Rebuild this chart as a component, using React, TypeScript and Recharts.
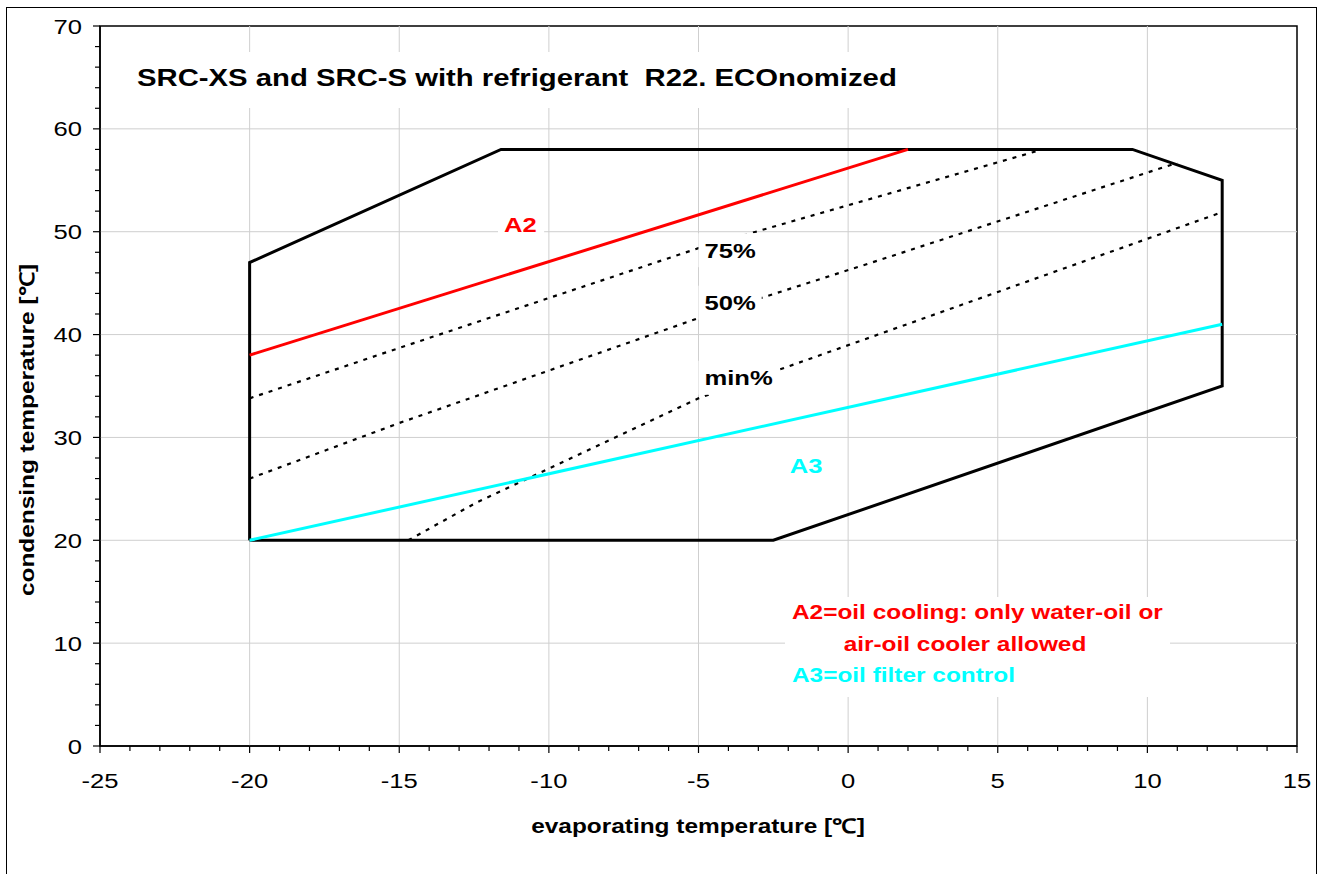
import React from 'react';
import {
  ComposedChart, Line, XAxis, YAxis,
  ReferenceLine, ReferenceDot, ReferenceArea
} from 'recharts';

const FONT = '"Liberation Sans", Arial, sans-serif';
// the original lettering is drawn wider than Arial
const SX = 1.22;

// application envelope (evaporating / condensing temperature)
const envelopeX = [-20, -20, -11.6, 9.5, 12.5, 12.5, -2.5, -20];
const envelopeY = [20, 47, 58, 58, 55, 35, 20, 20];

// A2 / A3 limit lines
const a2X = [-20, 2];
const a2Y = [38, 58];
const a3X = [-20, 12.5];
const a3Y = [20, 41];

// capacity step lines
const cap75X = [-20, -15, -5, -3.2, 6.5];
const cap75Y = [33.8, 38.7, 48.4, 49.9, 58];
const cap50X = [-20, -15, -5, 1, 11];
const cap50Y = [26, 31.4, 41.6, 47.2, 56.7];
const capMinX = [-14.7, -12.4, -5, 1, 12.4];
const capMinY = [20, 23.7, 33.8, 40, 51.8];

// axes
const xMin = -25;
const xMax = 15;
const yMin = 0;
const yMax = 70;
const gridX = [-20, -15, -10, -5, 0, 5, 10];
const gridY = [10, 20, 30, 40, 50, 60];

// in-plot labels
const labelText = ['75%', '50%', 'min%', 'A2', 'A3'];
const labelX = [-4.8, -4.8, -4.8, -11.5, -1.95];
const labelY = [48.2, 43.1, 35.8, 50.75, 27.3];
const labelColor = ['#000000', '#000000', '#000000', '#ff0000', '#00ffff'];

const range = (a: number, b: number, step: number) => {
  const out: number[] = [];
  for (let v = a; v <= b; v += step) out.push(v);
  return out;
};
const xTicks = range(xMin, xMax, 1);
const yTicks = range(yMin, yMax, 2);

const toPoints = (xs: number[], ys: number[]) => xs.map((x, i) => ({ x, y: ys[i] }));

const XTick = ({ x, y, payload }: any) => {
  const v = payload.value;
  const major = v % 5 === 0;
  return (
    <g>
      <line x1={x} x2={x} y1={y} y2={y + (major ? 7 : 5)} stroke="#000" strokeWidth={1.2} />
      {major && (
        <text transform={`translate(${x} ${y + 42}) scale(${SX} 1)`} textAnchor="middle" fontSize={21} fontFamily={FONT} fill="#000">
          {v}
        </text>
      )}
    </g>
  );
};

const YTick = ({ x, y, payload }: any) => {
  const v = payload.value;
  const major = v % 10 === 0;
  return (
    <g>
      <line x1={x - (major ? 7 : 5)} x2={x} y1={y} y2={y} stroke="#000" strokeWidth={1.2} />
      {major && (
        <text transform={`translate(${x - 18} ${y}) scale(${SX} 1)`} dy="0.36em" textAnchor="end" fontSize={21} fontFamily={FONT} fill="#000">
          {v}
        </text>
      )}
    </g>
  );
};

const makeLabel = (text: string, color: string) => (p: any) => {
  const w = text.length * 14 * SX + 12;
  return (
    <g>
      <rect x={p.cx - 6} y={p.cy - 17} width={w} height={34} fill="#fff" />
      <text transform={`translate(${p.cx} ${p.cy}) scale(${SX} 1)`} dy="0.36em" fontSize={21} fontWeight="bold" fontFamily={FONT} fill={color}>
        {text}
      </text>
    </g>
  );
};

const stretchLeft: React.CSSProperties = { transform: `scaleX(${SX})`, transformOrigin: 'left center', whiteSpace: 'pre' };

export default function App() {
  return (
    <div style={{ position: 'absolute', left: 0, top: 0, width: 1321, height: 874, overflow: 'hidden', background: '#fff', fontFamily: FONT }}>
      <div style={{ position: 'absolute', left: 6, top: 7, width: 1309, height: 900, border: '1.5px solid #000' }} />
      <div style={{ position: 'absolute', left: 0, top: 0 }}>
        <ComposedChart width={1321} height={874} margin={{ top: 26, right: 24, left: 0, bottom: 0 }}>
          <XAxis
            type="number"
            dataKey="x"
            domain={[xMin, xMax]}
            ticks={xTicks}
            interval={0}
            height={128}
            tickLine={false}
            tickSize={0}
            tickMargin={0}
            tick={<XTick />}
            axisLine={{ stroke: '#000', strokeWidth: 1.5 }}
            allowDataOverflow
          />
          <YAxis
            type="number"
            dataKey="y"
            domain={[yMin, yMax]}
            ticks={yTicks}
            interval={0}
            width={100}
            tickLine={false}
            tickSize={0}
            tickMargin={0}
            tick={<YTick />}
            axisLine={{ stroke: '#000', strokeWidth: 1.5 }}
            allowDataOverflow
          />
          {gridX.map((v) => (
            <ReferenceLine key={`gx${v}`} x={v} stroke="#cfcfcf" strokeWidth={1} />
          ))}
          {gridY.map((v) => (
            <ReferenceLine key={`gy${v}`} y={v} stroke="#cfcfcf" strokeWidth={1} />
          ))}
          <ReferenceArea x1={xMin} x2={xMax} y1={yMin} y2={yMax} fill="none" stroke="#000" strokeWidth={1.5} />
          <Line data={toPoints(cap75X, cap75Y)} dataKey="y" stroke="#000" strokeWidth={2.2} strokeDasharray="4 6" dot={false} isAnimationActive={false} />
          <Line data={toPoints(cap50X, cap50Y)} dataKey="y" stroke="#000" strokeWidth={2.2} strokeDasharray="4 6" dot={false} isAnimationActive={false} />
          <Line data={toPoints(capMinX, capMinY)} dataKey="y" stroke="#000" strokeWidth={2.2} strokeDasharray="4 6" dot={false} isAnimationActive={false} />
          <Line data={toPoints(envelopeX, envelopeY)} dataKey="y" stroke="#000" strokeWidth={3} dot={false} isAnimationActive={false} />
          <Line data={toPoints(a2X, a2Y)} dataKey="y" stroke="#ff0000" strokeWidth={3} dot={false} isAnimationActive={false} />
          <Line data={toPoints(a3X, a3Y)} dataKey="y" stroke="#00ffff" strokeWidth={3} dot={false} isAnimationActive={false} />
          {labelText.map((t, i) => (
            <ReferenceDot key={t} x={labelX[i]} y={labelY[i]} r={0} shape={makeLabel(t, labelColor[i])} />
          ))}
        </ComposedChart>
      </div>
      <div style={{ position: 'absolute', left: 122, top: 52, width: 790, height: 56, background: '#fff' }} />
      <div style={{ position: 'absolute', left: 137, top: 62, fontSize: 24, fontWeight: 'bold', lineHeight: '32px', ...stretchLeft }}>
        {'SRC-XS and SRC-S with refrigerant  R22. ECOnomized'}
      </div>
      <div style={{ position: 'absolute', left: 785, top: 597, width: 385, height: 100, background: '#fff' }} />
      <div style={{ position: 'absolute', left: 792, top: 597, fontSize: 20, fontWeight: 'bold', lineHeight: '31.5px', color: '#ff0000', ...stretchLeft }}>
        A2=oil cooling: only water-oil or
      </div>
      <div style={{ position: 'absolute', left: 765, width: 400, top: 628.5, textAlign: 'center', fontSize: 20, fontWeight: 'bold', lineHeight: '31.5px', color: '#ff0000', transform: `scaleX(${SX})` }}>
        air-oil cooler allowed
      </div>
      <div style={{ position: 'absolute', left: 792, top: 660, fontSize: 20, fontWeight: 'bold', lineHeight: '31.5px', color: '#00ffff', ...stretchLeft }}>
        A3=oil filter control
      </div>
      <div style={{ position: 'absolute', left: 0, width: 1396, top: 812, textAlign: 'center', fontSize: 20, fontWeight: 'bold', transform: `scaleX(${SX})` }}>
        evaporating temperature [℃]
      </div>
      <div style={{ position: 'absolute', left: 26, top: 430, width: 0, height: 0 }}>
        <div style={{ position: 'absolute', left: 0, top: 0, transform: `translate(-50%, -50%) rotate(-90deg) scaleX(${SX})`, fontSize: 20, fontWeight: 'bold', whiteSpace: 'nowrap' }}>
          condensing temperature [℃]
        </div>
      </div>
    </div>
  );
}
